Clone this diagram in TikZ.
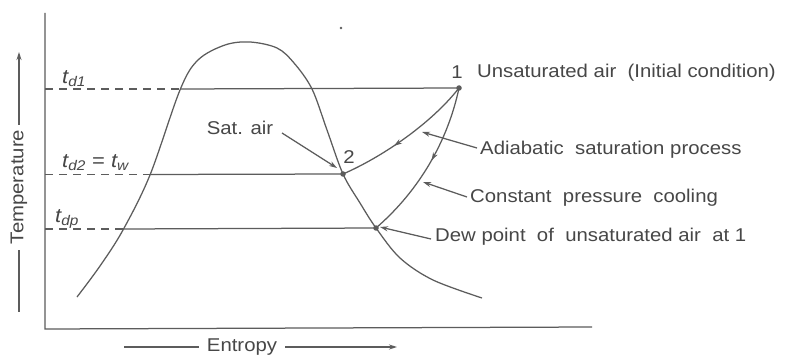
\documentclass[tikz,border=0pt]{standalone}
\usepackage{fontspec}
\setmainfont{Liberation Sans}[FakeStretch=1.1]
\usetikzlibrary{arrows.meta,decorations.markings}
\definecolor{ink}{gray}{0.28}
\definecolor{linec}{gray}{0.36}
\tikzset{
  lbl/.style={text=ink,font=\fontsize{18.5}{20}\selectfont,inner sep=0pt},
  sublbl/.style={text=ink,font=\fontsize{20}{22}\selectfont\itshape,inner sep=0pt,anchor=west},
  ln/.style={draw=linec,line width=1.25pt},
  dsh/.style={draw=linec,line width=1.25pt,dash pattern=on 8pt off 6pt},
  tip/.style={-{Stealth[length=8pt,width=5pt]}},
  pt/.style={circle,fill=linec,inner sep=0pt,minimum size=5.5pt},
  midarrow/.style={postaction={decorate},decoration={markings,
    mark=at position #1 with {\arrow{Stealth[length=8pt,width=5pt]}}}}
}
\begin{document}
\begin{tikzpicture}[x=1pt,y=-1pt]
\useasboundingbox[fill=white] (0,0) rectangle (786,358);
% axes
\coordinate (ytop) at (45,13);
\coordinate (orig) at (45,329);
\coordinate (xend) at (592,327);
\draw[ln] (ytop) -- (orig) -- (xend);
% dome
\draw[ln] plot[smooth,tension=0.55] coordinates {(77,297) (100,266) (123,230) (150,175) (180,90) (198,60) (225,45) (250,42) (277,48) (294,63) (312,89) (327,130) (343,174) (360,203) (376,228) (400,258) (433,280) (482,298)};
% state points
\node[pt] (P1) at (459,88) {};
\node[pt] (P2) at (343,174) {};
\node[pt] (PD) at (376,228) {};
% horizontal lines
\coordinate (a1) at (45,89); \coordinate (b1) at (180,89);
\coordinate (a2) at (45,174.5); \coordinate (b2) at (150,174.5);
\coordinate (a3) at (45,229); \coordinate (b3) at (123,229);
\draw[dsh] (a1) -- (b1); \draw[ln] (b1) -- (P1.center);
\draw[dsh] (a2) -- (b2); \draw[ln] (b2) -- (P2.center);
\draw[dsh] (a3) -- (b3); \draw[ln] (b3) -- (PD.center);
% processes
\draw[ln,midarrow=0.6] (P1.center) .. controls (430,125) and (380,158) .. (P2.center);
\draw[ln,midarrow=0.47] (P1.center) .. controls (448,140) and (420,190) .. (PD.center);
% labels
\node[lbl] (n1) at (457,72) {1};
\node[lbl,anchor=west] (t1) at (477,73) {Unsaturated air \ (Initial condition)};
\node[lbl,anchor=west] (t2) at (480,150) {Adiabatic \ saturation process};
\node[lbl,anchor=west] (t3) at (470,198) {Constant \ pressure \ cooling};
\node[lbl,anchor=west] (t4) at (435,237) {Dew point \ of \ unsaturated air \ at 1};
\node[lbl] (sat) at (240,128) {Sat. air};
\node[lbl] (n2) at (349,157) {2};
\coordinate (l2) at (422,132);
\coordinate (l3) at (423,182);
\coordinate (l4) at (380,227);
\coordinate (ls) at (337,168);
\draw[ln,tip] (282,133) -- (ls);
\draw[ln,tip] (t2.west) ++(-3,-2) -- (l2);
\draw[ln,tip] (t3.west) ++(-3,-1) -- (l3);
\draw[ln,tip] (t4.west) ++(-4,2) -- (l4);
% temperature labels
\node[sublbl] (td1) at (62,79) {t\textsubscript{d1}};
\node[sublbl] (td2) at (62,163) {t\textsubscript{d2}\upshape\ = \itshape t\textsubscript{w}};
\node[sublbl] (tdp) at (55,219) {t\textsubscript{dp}};
% axis titles
\node[lbl,rotate=90] (temp) at (19,187) {Temperature};
\coordinate (tlow) at (19,312);
\coordinate (thigh) at (19,52);
\draw[ln] (temp.west) ++(0,6) -- (tlow);
\draw[ln,tip] (temp.east) ++(0,-5) -- (thigh);
\node[lbl] (ent) at (242,347) {Entropy};
\coordinate (eleft) at (124,347);
\coordinate (eright) at (397,347);
\draw[ln] (ent.west) ++(-8,0) -- (eleft);
\draw[ln,tip] (ent.east) ++(8,0) -- (eright);
% speck
\fill[linec] (341,28) circle (1.4);
\end{tikzpicture}
\end{document}
